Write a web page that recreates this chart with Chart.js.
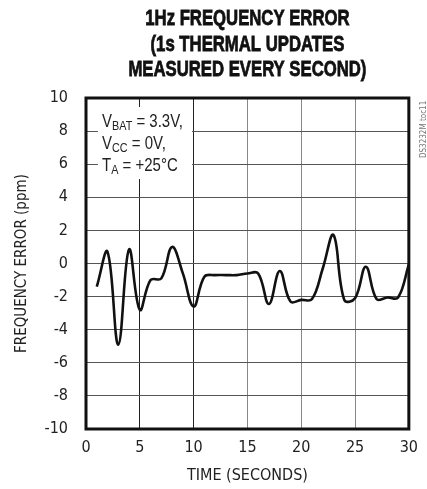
<!DOCTYPE html>
<html><head><meta charset="utf-8">
<script src="https://cdn.jsdelivr.net/npm/chart.js@4"></script>
<style>html,body{margin:0;padding:0;background:#fff}#wrap{width:427px;height:489px}</style>
</head><body><div id="wrap"><canvas id="c" width="427" height="489"></canvas></div>
<script>
const seconds = [1,2,3,4,5,6,7,8,9,10,11,12,13,14,15,16,17,18,19,20,21,22,23,24,25,26,27,28,29,30];
const errorPpm = [-1.4,0.7,-4.9,0.85,-2.8,-1.0,-0.9,1.0,-0.6,-2.6,-0.8,-0.7,-0.7,-0.7,-0.6,-0.6,-2.45,-0.45,-2.3,-2.2,-2.15,-0.3,1.72,-2.2,-2.1,-0.2,-2.15,-2.05,-2.05,-0.05];
const titleLines = ["1Hz FREQUENCY ERROR","(1s THERMAL UPDATES","MEASURED EVERY SECOND)"];
const xTitle = "TIME (SECONDS)";
const yTitle = "FREQUENCY ERROR (ppm)";
const noteLines = [["V","BAT"," = 3.3V,"],["V","CC"," = 0V,"],["T","A"," = +25°C"]];
const sideTag = "DS3232M toc11";

const NARROW = '"DejaVu Sans Condensed","Liberation Sans",sans-serif';
const SANS = '"Liberation Sans",Arial,sans-serif';

const deco = {
  id:'deco',
  beforeDatasetsDraw(chart){
    const ctx = chart.ctx, a = chart.chartArea;
    ctx.save();
    ctx.fillStyle = '#fff';
    ctx.fillRect(a.left+12, a.top+9, 94, 72);
    ctx.fillStyle = '#222';
    ctx.textBaseline = 'alphabetic';
    const big = '18px ' + SANS, small = '13px ' + SANS;
    ctx.font = big; let w = ctx.measureText(noteLines[0][0]).width + ctx.measureText(noteLines[0][2]).width;
    ctx.font = small; w += ctx.measureText(noteLines[0][1]).width;
    const sx = 81 / w;
    let y = a.top + 29;
    for (const [m, sub, rest] of noteLines){
      ctx.save();
      ctx.translate(a.left + 16, 0);
      ctx.scale(sx, 1);
      let x = 0;
      ctx.font = big; ctx.fillText(m, x, y); x += ctx.measureText(m).width;
      ctx.font = small; ctx.fillText(sub, x, y+3); x += ctx.measureText(sub).width;
      ctx.font = big; ctx.fillText(rest, x, y);
      ctx.restore();
      y += 22;
    }
    ctx.restore();
  },
  afterDraw(chart){
    const ctx = chart.ctx, a = chart.chartArea;
    ctx.save();
    ctx.strokeStyle = '#111';
    ctx.lineWidth = 3;
    ctx.strokeRect(a.left, a.top, a.right-a.left, a.bottom-a.top);
    ctx.fillStyle = '#111';
    ctx.strokeStyle = '#111';
    ctx.lineWidth = 0.8;
    ctx.font = 'bold 22px ' + SANS;
    ctx.textAlign = 'center';
    ctx.textBaseline = 'middle';
    const cx = (a.left + a.right)/2;
    const sx = 238 / ctx.measureText(titleLines[2]).width;
    titleLines.forEach((t,i)=>{
      ctx.save(); ctx.translate(cx, 0); ctx.scale(sx, 1);
      ctx.fillText(t, 0, 19 + i*25.5);
      ctx.strokeText(t, 0, 19 + i*25.5);
      ctx.restore();
    });
    ctx.font = '8px ' + NARROW;
    ctx.fillStyle = '#777';
    ctx.translate(424, a.top + 60);
    ctx.rotate(-Math.PI/2);
    ctx.textAlign = 'left';
    ctx.fillText(sideTag, 0, 0);
    ctx.restore();
  }
};

new Chart(document.getElementById('c'), {
  type:'line',
  data:{ datasets:[{ data: seconds.map((s,i)=>({x:s, y:errorPpm[i]})), borderColor:'#111', borderWidth:2.6, pointRadius:0, tension:0.4, fill:false }]},
  options:{
    responsive:false, animation:false, devicePixelRatio:1,
    layout:{ padding:{ top:98, right:10, left:0, bottom:0 } },
    plugins:{ legend:{display:false}, tooltip:{enabled:false} },
    scales:{
      x:{ type:'linear', min:0, max:30,
        ticks:{ stepSize:5, color:'#222', font:{family:NARROW, size:16}, padding:9 },
        grid:{ color:(c)=> (c.tick && (c.tick.value===5||c.tick.value===10)) ? '#222' : '#888', lineWidth:1, drawTicks:false },
        border:{ display:false },
        title:{ display:true, text:xTitle, color:'#222', font:{family:NARROW, size:16}, padding:{top:5} },
        afterFit(s){ s.height = 60; }
      },
      y:{ min:-10, max:10,
        ticks:{ stepSize:2, color:'#222', font:{family:NARROW, size:16}, padding:18 },
        grid:{ color:'#555', lineWidth:1, drawTicks:false },
        border:{ display:false },
        title:{ display:true, text:yTitle, color:'#222', font:{family:NARROW, size:15}, padding:{top:13, bottom:0} },
        afterFit(s){ s.width = 86; }
      }
    }
  },
  plugins:[deco]
});
</script>
</body></html>
